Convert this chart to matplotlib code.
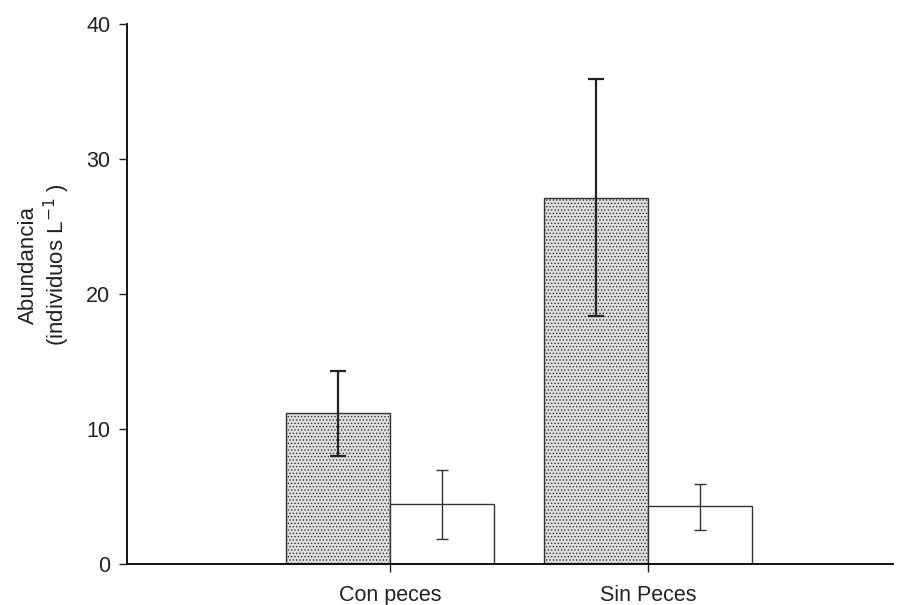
import matplotlib
matplotlib.use("Agg")
import matplotlib.pyplot as plt
import numpy as np

plt.rcParams['font.family'] = ['Liberation Sans', 'DejaVu Sans']
plt.rcParams['hatch.color'] = '#ababab'
plt.rcParams['hatch.linewidth'] = 0.6

categories = ["Con peces", "Sin Peces"]
gray_vals = [11.2, 27.1]
gray_lo = [8.0, 18.4]
gray_hi = [14.3, 35.9]
white_vals = [4.45, 4.3]
white_lo = [1.85, 2.5]
white_hi = [6.95, 5.9]
yticks = [0, 10, 20, 30, 40]

fig = plt.figure(figsize=(8.97, 6.05), dpi=100)
ax = fig.add_axes([127/897, 1-564/605, (893-127)/897, (564-24)/605])

x = np.arange(len(categories))
w = 0.403
gv = np.array(gray_vals); wv = np.array(white_vals)
ax.bar(x - w/2, gv, width=w, facecolor='#dedede', edgecolor='#333333', linewidth=1.0,
       hatch='.....', zorder=2)
ax.bar(x + w/2, wv, width=w, facecolor='white', edgecolor='#333333', linewidth=1.0, zorder=2)
ax.errorbar(x - w/2, gv, yerr=[gv - np.array(gray_lo), np.array(gray_hi) - gv],
            fmt='none', ecolor='#222222', elinewidth=1.6, capsize=6, capthick=1.6, zorder=3)
ax.errorbar(x + w/2, wv, yerr=[wv - np.array(white_lo), np.array(white_hi) - wv],
            fmt='none', ecolor='#333333', elinewidth=1.0, capsize=4.5, capthick=1.0, zorder=3)

ax.set_xlim((127-390)/258, (893-390)/258)
ax.set_ylim(0, 40)
ax.set_yticks(yticks)
ax.set_xticks(x)
ax.set_xticklabels(categories)
ax.spines['top'].set_visible(False)
ax.spines['right'].set_visible(False)
ax.spines['left'].set_linewidth(1.3)
ax.spines['bottom'].set_linewidth(1.3)
ax.tick_params(axis='both', direction='out', length=6, width=1.0, labelsize=15.5, colors='#222222')
ax.tick_params(axis='x', pad=9)
ax.tick_params(axis='y', pad=6)
fig.text(45/897, 1-265/605, "Abundancia\n(individuos L$^{-1}$ )", rotation=90,
         ha='center', va='center', fontsize=16, color='#222222', linespacing=1.15,
         multialignment='center')

fig.savefig("out.png", dpi=100)
